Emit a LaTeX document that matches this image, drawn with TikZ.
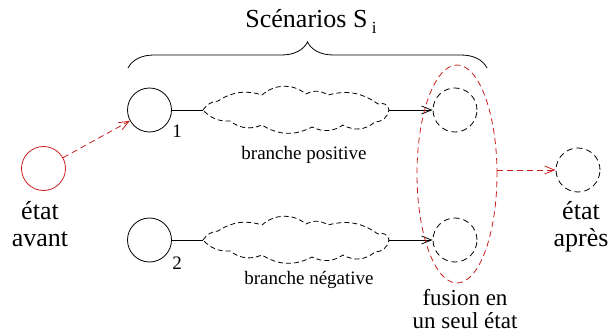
\documentclass[tikz,border=0pt]{standalone}
\usepackage{fontspec}
\setmainfont{Liberation Serif}
\usetikzlibrary{shapes.geometric,arrows.meta,decorations.pathreplacing}
\definecolor{fred}{RGB}{200,30,30}
\begin{document}
\begin{tikzpicture}[x=1pt,y=-1pt,line width=0.8pt,
  state/.style={circle,draw,minimum size=44pt,inner sep=0pt},
  ghost/.style={circle,draw,dash pattern=on 6pt off 4pt,minimum size=44pt,inner sep=0pt},
  big/.style={font=\fontsize{26}{27}\selectfont,align=center,inner sep=0pt},
  mid/.style={font=\fontsize{23}{23}\selectfont,align=center,inner sep=0pt},
  small/.style={font=\fontsize{19}{19}\selectfont},
  arr/.style={-{Straight Barb[length=10pt,width=8pt]}},
  redarr/.style={arr,draw=fred,dash pattern=on 6pt off 4pt},
  branchcloud/.pic={
    \coordinate (-w) at (-93,0);
    \coordinate (-e) at (93,0);
    \draw[dash pattern=on 5pt off 3pt]
      (-w) to[bend left=25] (-78,-9) to[bend left=25] (-34,-15)
      to[bend left=40] (10,-16) to[bend left=30] (32,-15)
      to[bend left=25] (82,-6) to[bend left=60] (-e)
      to[bend left=40] (79,12) to[bend left=35] (47,15)
      to[bend left=30] (16,17) to[bend left=30] (-34,15)
      to[bend left=30] (-66,11) to[bend left=25] (-w);
  }]
\useasboundingbox (0,0) rectangle (613,334);

% starting state
\node[state,draw=fred] (avant) at (43.5,168.5) {};
\node[big,anchor=base] (lavant) at (40,246) {état\\avant};

% the two scenarios
\node[state] (s1) at (149.5,110) {};
\node[state] (s2) at (149.5,240) {};
\node[small] (n1) at (177,131) {1};
\node[small] (n2) at (177,263) {2};

\pic (c1) at (296,110) {branchcloud};
\pic (c2) at (296,240) {branchcloud};
\node[small] (lpos) at (304,155) {branche positive};
\node[small] (lneg) at (309,280) {branche négative};

\node[ghost] (e1) at (455,110) {};
\node[ghost] (e2) at (455,240) {};

\draw (s1.east) -- (c1-w);
\draw (s2.east) -- (c2-w);
\draw[arr] (c1-e) -- (e1.west);
\draw[arr] (c2-e) -- (e2.west);

% merging of the two branches
\node[ellipse,draw=fred,dash pattern=on 6pt off 4pt,minimum width=80pt,minimum height=218pt,inner sep=0pt] (fus) at (457,174) {};
\node[mid,anchor=base] (lfus) at (465,328) {fusion en\\un seul état};

% resulting state
\node[ghost] (apres) at (578,170) {};
\node[big,anchor=base] (lapres) at (581,246) {état\\après};

\draw[redarr] (avant) -- (s1);
\draw[redarr] (fus.east |- apres.west) -- (apres.west);

% brace over the scenarios
\coordinate (bl) at (128,68);
\coordinate (br) at (487,68);
\draw[decorate,decoration={brace,amplitude=26pt}] (bl) -- (br);
\node[font=\fontsize{26}{26}\selectfont,anchor=base] (title) at (311,28) {Scénarios S\,\raisebox{-6pt}{\fontsize{17}{17}\selectfont i}};
\end{tikzpicture}
\end{document}
